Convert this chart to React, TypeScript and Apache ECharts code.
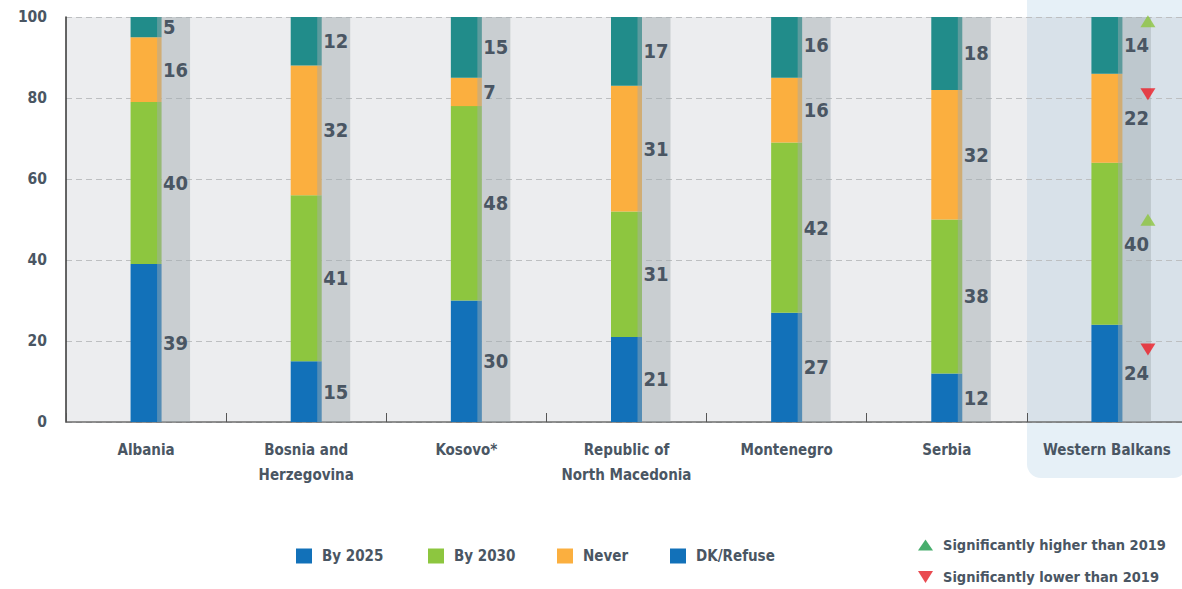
import React, { useEffect, useRef } from "react";
import * as echarts from "echarts";

const categories = [
  "Albania",
  "Bosnia and\nHerzegovina",
  "Kosovo*",
  "Republic of\nNorth Macedonia",
  "Montenegro",
  "Serbia",
  "Western Balkans",
];
const by2025 = [39, 15, 30, 21, 27, 12, 24];
const by2030 = [40, 41, 48, 31, 42, 38, 40];
const never = [16, 32, 7, 31, 16, 32, 22];
const dkRefuse = [5, 12, 15, 17, 16, 18, 14];
const yTicks = [0, 20, 40, 60, 80, 100];

// significance markers for Western Balkans (category index 6)
const higherThan2019 = [
  { cat: 6, series: "DK/Refuse" },
  { cat: 6, series: "By 2030" },
];
const lowerThan2019 = [
  { cat: 6, series: "Never" },
  { cat: 6, series: "By 2025" },
];

const FONT = "'Liberation Sans Narrow', 'DejaVu Sans Condensed', 'Arial Narrow', sans-serif";
const TXT = "#4A5663";
const seriesNames = ["By 2025", "By 2030", "Never", "DK/Refuse"];
const seriesData = [by2025, by2030, never, dkRefuse];
const colors = ["#1271B9", "#8DC63F", "#FBAF3F", "#218C8A"];

function segMid(cat: number, name: string) {
  const k = seriesNames.indexOf(name);
  let cum = 0;
  for (let j = 0; j < k; j++) cum += seriesData[j][cat];
  return cum + seriesData[k][cat] / 2;
}

export default function App() {
  const ref = useRef<HTMLDivElement>(null);
  useEffect(() => {
    document.body.style.margin = "0";
    document.body.style.overflow = "hidden";
    document.documentElement.style.overflow = "hidden";
    const chart = echarts.init(ref.current!, null, { renderer: "svg" });
    const downTri = "path://M0,0L20,0L10,16Z";
    const legendBase = {
      selectedMode: false,
      padding: 0,
      itemWidth: 16,
      itemHeight: 15,
      icon: "rect",
      textStyle: {
        color: TXT,
        fontFamily: FONT,
        fontWeight: "bold",
        fontSize: 15,
        lineHeight: 18,
        padding: [0, 0, 0, 5],
      },
    };
    const legendLefts = [296, 428, 557, 670];
    const legendColors = ["#1271B9", "#8DC63F", "#FBAF3F", "#1271B9"];
    const option: any = {
      animation: false,
      graphic: [
        {
          type: "rect",
          z: -10,
          shape: { x: 1027, y: 0, width: 160, height: 478, r: [0, 0, 14, 14] },
          style: { fill: "#E6F0F7" },
        },
        {
          type: "rect",
          z: -10,
          shape: { x: 66, y: 17, width: 961, height: 405 },
          style: { fill: "#ECEDEF" },
        },
        {
          type: "rect",
          z: -10,
          shape: { x: 1027, y: 17, width: 160, height: 405 },
          style: { fill: "#D8E1E9" },
        },
      ],
      grid: { left: 66, top: 17, width: 1121, height: 405 },
      legend: [
        ...seriesNames.map((n, i) => ({
          ...legendBase,
          left: legendLefts[i],
          top: 547,
          data: [{ name: n, itemStyle: { color: legendColors[i] } }],
        })),
        {
          ...legendBase,
          left: 918,
          top: 536,
          itemWidth: 15,
          itemHeight: 11,
          textStyle: { ...legendBase.textStyle, fontSize: 14.5 },
          data: [
            {
              name: "Significantly higher than 2019",
              icon: "triangle",
              itemStyle: { color: "#1A9A48" },
            },
          ],
        },
        {
          ...legendBase,
          left: 918,
          top: 568,
          itemWidth: 15,
          itemHeight: 12,
          textStyle: { ...legendBase.textStyle, fontSize: 14.5 },
          data: [
            {
              name: "Significantly lower than 2019",
              icon: downTri,
              itemStyle: { color: "#E31E25" },
            },
          ],
        },
      ],
      xAxis: {
        type: "category",
        data: categories,
        axisLine: { lineStyle: { color: "#6E6E6E", width: 1.5 } },
        axisTick: { show: true, inside: true, length: 9, lineStyle: { color: "#555" } },
        axisLabel: {
          color: TXT,
          fontFamily: FONT,
          fontWeight: "bold",
          fontSize: 15,
          lineHeight: 25,
          margin: 15,
          interval: 0,
        },
        splitLine: { show: false },
      },
      yAxis: {
        type: "value",
        min: yTicks[0],
        max: yTicks[yTicks.length - 1],
        interval: 20,
        axisLine: { show: true, lineStyle: { color: "#333", width: 1.5 } },
        axisTick: { show: false },
        axisLabel: {
          color: TXT,
          fontFamily: FONT,
          fontWeight: "bold",
          fontSize: 15.5,
          margin: 19,
        },
        splitLine: { show: true, lineStyle: { color: "#BDBFC1", type: [6, 4], width: 1.2 } },
      },
      series: [
        ...seriesNames.map((n, i) => ({
          name: n,
          type: "bar",
          stack: "total",
          barWidth: 31,
          clip: true,
          z: 2,
          itemStyle: { color: colors[i] },
          data: seriesData[i],
        })),
        {
          type: "custom",
          z: 3,
          silent: true,
          data: categories.map((_, i) => [i, by2025[i], by2030[i], never[i], dkRefuse[i]]),
          encode: { x: 0, y: 1 },
          renderItem: (params: any, api: any) => {
            const i = api.value(0);
            const base = api.coord([i, 0]);
            const top = api.coord([i, 100]);
            const cx = base[0];
            const children: any[] = [
              {
                type: "rect",
                shape: { x: cx + 11, y: top[1], width: 33, height: base[1] - top[1] },
                style: { fill: "rgba(162,173,177,0.47)" },
              },
            ];
            let cum = 0;
            for (let k = 1; k <= 4; k++) {
              const v = api.value(k);
              const p = api.coord([i, Math.min(cum + v / 2, 100)]);
              children.push({
                type: "text",
                style: {
                  text: String(v),
                  x: cx + 17,
                  y: p[1],
                  fill: TXT,
                  fontFamily: FONT,
                  fontWeight: "bold",
                  fontSize: 20,
                  align: "left",
                  verticalAlign: "middle",
                },
              });
              cum += v;
            }
            return { type: "group", children };
          },
        },
        {
          name: "Significantly higher than 2019",
          type: "scatter",
          z: 5,
          symbol: "triangle",
          symbolSize: [15, 12],
          symbolOffset: [41, -24],
          itemStyle: { color: "#8DC63F" },
          data: higherThan2019.map((d) => [d.cat, segMid(d.cat, d.series)]),
        },
        {
          name: "Significantly lower than 2019",
          type: "scatter",
          z: 5,
          symbol: downTri,
          symbolSize: [15, 12],
          symbolOffset: [41, -24],
          itemStyle: { color: "#ED1C24" },
          data: lowerThan2019.map((d) => [d.cat, segMid(d.cat, d.series)]),
        },
      ],
    };
    chart.setOption(option);
    return () => chart.dispose();
  }, []);
  return <div ref={ref} style={{ width: 1190, height: 589 }} />;
}
